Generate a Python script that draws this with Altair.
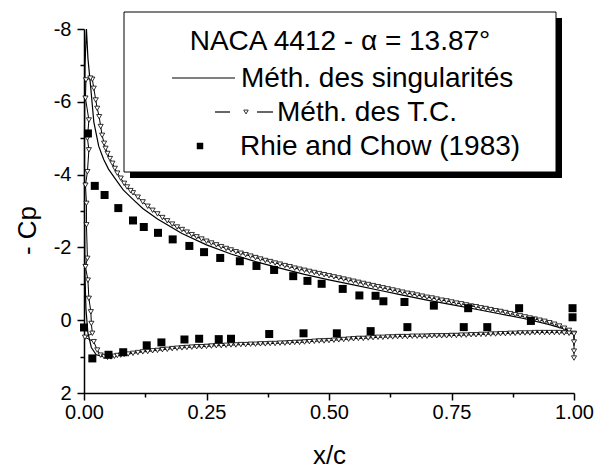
import altair as alt
import pandas as pd

# ---------------- data ----------------
# Méthode des singularités (solid line), ordered TE upper -> LE -> TE lower
sing_x = [1.0, 0.98, 0.95, 0.9, 0.85, 0.8, 0.75, 0.7, 0.65, 0.6, 0.55, 0.5, 0.45, 0.4, 0.35,
          0.3, 0.25, 0.2, 0.15, 0.12, 0.1, 0.08, 0.065, 0.05, 0.04, 0.03, 0.02, 0.014, 0.008, 0.005,
          0.002, 0.001, 0.001, 0.002, 0.004, 0.008, 0.015, 0.025, 0.04, 0.055, 0.08, 0.1, 0.15, 0.2,
          0.25, 0.3, 0.35, 0.4, 0.45, 0.5, 0.55, 0.6, 0.65, 0.7, 0.75, 0.8, 0.85, 0.9, 0.95, 0.98, 1.0, 1.0]
sing_y = [0.34, 0.24, 0.12, -0.04, -0.17, -0.3, -0.43, -0.55, -0.69, -0.83, -0.97, -1.11, -1.26, -1.43, -1.61,
          -1.82, -2.07, -2.38, -2.78, -3.07, -3.32, -3.58, -3.86, -4.15, -4.42, -4.78, -5.45, -6.35, -7.2, -8.0,
          -7.0, -5.0, -3.0, -1.2, -0.3, 0.35, 0.75, 0.95, 1.0, 0.97, 0.92, 0.88, 0.79, 0.71,
          0.67, 0.64, 0.62, 0.59, 0.55, 0.51, 0.47, 0.43, 0.41, 0.39, 0.38, 0.36, 0.34, 0.32, 0.3, 0.3, 0.33, 0.7]

# Méthode des T.C. (triangles), ordered TE upper -> LE -> TE lower
tc_x = [1.0, 0.99, 0.98, 0.97, 0.96, 0.95, 0.94, 0.93, 0.92, 0.91, 0.90, 0.89, 0.88, 0.87, 0.86,
        0.85, 0.84, 0.83, 0.82, 0.81, 0.80, 0.79, 0.78, 0.77, 0.76, 0.75, 0.74, 0.73, 0.72, 0.71,
        0.70, 0.69, 0.68, 0.67, 0.66, 0.65, 0.64, 0.63, 0.62, 0.61, 0.60, 0.59, 0.58, 0.57, 0.56,
        0.55, 0.54, 0.53, 0.52, 0.51, 0.50, 0.49, 0.48, 0.47, 0.46, 0.45, 0.44, 0.43, 0.42, 0.41,
        0.40, 0.39, 0.38, 0.37, 0.36, 0.35, 0.34, 0.33, 0.32, 0.31, 0.30, 0.29, 0.28, 0.27, 0.26,
        0.25, 0.24, 0.23, 0.22, 0.21, 0.20, 0.19, 0.18, 0.17, 0.16, 0.15, 0.14, 0.13, 0.12, 0.11,
        0.10, 0.095, 0.088, 0.082, 0.075, 0.068, 0.063, 0.058, 0.053, 0.048, 0.044, 0.041, 0.037, 0.034, 0.031,
        0.027, 0.024, 0.02, 0.017, 0.013,
        0.004, 0.003, 0.01, 0.007, 0.01, 0.007, 0.003, 0.005, 0.005, 0.007, 0.003, 0.008, 0.01, 0.014, 0.015,
        0.017, 0.002, 0.02, 0.027, 0.034, 0.041, 0.048, 0.055, 0.062, 0.068, 0.075, 0.082, 0.09,
        0.10, 0.11, 0.12, 0.13, 0.14, 0.15, 0.16, 0.17, 0.18, 0.19, 0.20, 0.21, 0.22, 0.23, 0.24,
        0.25, 0.26, 0.27, 0.28, 0.29, 0.30, 0.31, 0.32, 0.33, 0.34, 0.35, 0.36, 0.37, 0.38, 0.39,
        0.40, 0.41, 0.42, 0.43, 0.44, 0.45, 0.46, 0.47, 0.48, 0.49, 0.50, 0.51, 0.52, 0.53, 0.54,
        0.55, 0.56, 0.57, 0.58, 0.59, 0.60, 0.61, 0.62, 0.63, 0.64, 0.65, 0.66, 0.67, 0.68, 0.69,
        0.70, 0.71, 0.72, 0.73, 0.74, 0.75, 0.76, 0.77, 0.78, 0.79, 0.80, 0.81, 0.82, 0.83, 0.84,
        0.85, 0.86, 0.87, 0.88, 0.89, 0.90, 0.91, 0.92, 0.93, 0.94, 0.95, 0.96, 0.97, 0.98, 0.99,
        1.0, 1.0, 1.0, 1.0]
tc_y = [0.36, 0.28, 0.22, 0.16, 0.11, 0.07, 0.03, 0.0, -0.03, -0.06, -0.09, -0.12, -0.15, -0.18, -0.21,
        -0.24, -0.26, -0.29, -0.32, -0.34, -0.37, -0.39, -0.42, -0.45, -0.47, -0.50, -0.53, -0.55, -0.58, -0.61,
        -0.63, -0.66, -0.69, -0.72, -0.74, -0.77, -0.80, -0.83, -0.86, -0.89, -0.92, -0.95, -0.98, -1.01, -1.04,
        -1.07, -1.10, -1.13, -1.16, -1.19, -1.22, -1.25, -1.28, -1.31, -1.34, -1.37, -1.40, -1.43, -1.47, -1.50,
        -1.54, -1.57, -1.61, -1.64, -1.68, -1.72, -1.76, -1.80, -1.84, -1.88, -1.93, -1.97, -2.02, -2.07, -2.12,
        -2.17, -2.23, -2.29, -2.35, -2.42, -2.49, -2.56, -2.64, -2.73, -2.82, -2.92, -3.02, -3.13, -3.25, -3.38,
        -3.50, -3.56, -3.66, -3.76, -3.90, -4.04, -4.17, -4.31, -4.44, -4.58, -4.72, -4.86, -5.08, -5.32, -5.59,
        -5.82, -6.05, -6.37, -6.62, -6.65,
        -6.6, -6.1, -5.5, -5.0, -4.68, -4.08, -3.71, -3.21, -2.62, -1.70, -1.47, -1.10, -0.60, -0.23, 0.09,
        0.36, 0.47, 0.59, 0.82, 0.96, 1.0, 1.02, 1.01, 0.99, 0.97, 0.96, 0.94, 0.93,
        0.91, 0.89, 0.87, 0.86, 0.84, 0.83, 0.81, 0.80, 0.78, 0.77, 0.76, 0.75, 0.74, 0.73, 0.73,
        0.72, 0.71, 0.70, 0.70, 0.69, 0.68, 0.68, 0.67, 0.67, 0.66, 0.66, 0.65, 0.65, 0.64, 0.64,
        0.63, 0.63, 0.62, 0.61, 0.61, 0.60, 0.59, 0.58, 0.57, 0.57, 0.56, 0.55, 0.54, 0.53, 0.52,
        0.51, 0.50, 0.50, 0.49, 0.48, 0.47, 0.47, 0.46, 0.46, 0.45, 0.45, 0.45, 0.44, 0.44, 0.44,
        0.44, 0.43, 0.43, 0.43, 0.43, 0.42, 0.42, 0.41, 0.41, 0.40, 0.40, 0.39, 0.39, 0.38, 0.38,
        0.37, 0.37, 0.36, 0.36, 0.35, 0.35, 0.35, 0.34, 0.34, 0.34, 0.34, 0.34, 0.34, 0.35, 0.36,
        0.38, 0.6, 0.85, 1.04]

# Rhie and Chow (1983) (squares)
rc_x = [0.0, 0.008, 0.022, 0.042, 0.07, 0.10, 0.122, 0.151, 0.181, 0.215, 0.245, 0.278, 0.318, 0.352,
        0.388, 0.427, 0.456, 0.485, 0.528, 0.562, 0.595, 0.611, 0.654, 0.714, 0.784, 0.888, 0.912,
        0.997, 0.997,
        0.017, 0.05, 0.08, 0.128, 0.158, 0.205, 0.235, 0.275, 0.30, 0.378, 0.448, 0.516, 0.585,
        0.66, 0.775, 0.823]
rc_y = [0.2, -5.13, -3.69, -3.44, -3.08, -2.74, -2.56, -2.40, -2.22, -2.04, -1.87, -1.71, -1.62, -1.49,
        -1.38, -1.21, -1.08, -1.0, -0.86, -0.68, -0.67, -0.52, -0.50, -0.40, -0.33, -0.33, 0.02,
        -0.33, -0.08,
        1.05, 0.95, 0.88, 0.69, 0.61, 0.53, 0.51, 0.52, 0.51, 0.38, 0.36, 0.36, 0.30,
        0.19, 0.19, 0.19]

x_major = [0.0, 0.25, 0.5, 0.75, 1.0]
x_minor = [0.125, 0.375, 0.625, 0.875]
y_major = [-8, -6, -4, -2, 0, 2]
y_minor = [-7, -5, -3, -1, 1]

legend_title = "NACA 4412 - \u03b1 = 13.87\u00b0"
legend_labels = ["M\u00e9th. des singularit\u00e9s", "M\u00e9th. des T.C.", "Rhie and Chow (1983)"]

# ---------------- chart ----------------
FONT = "Liberation Sans"
df_sing = pd.DataFrame({"x": sing_x, "y": sing_y, "i": list(range(len(sing_x)))})
df_tc = pd.DataFrame({"x": tc_x, "y": tc_y, "i": list(range(len(tc_x)))})
df_rc = pd.DataFrame({"x": rc_x, "y": rc_y})
one = pd.DataFrame({"k": [0]})

xs = alt.Scale(domain=[0, 1], nice=False, zero=False)
ys = alt.Scale(domain=[-8, 2], nice=False, zero=False, reverse=True)

ylab = "datum.value < 0 ? '-' + format(-datum.value, 'd') : format(datum.value, 'd')"

x_axis_major = alt.Axis(values=x_major, format=".2f", title="x/c", orient="bottom", tickSize=7,
                        labelPadding=2, grid=False, labelFlush=False,
                        titleY=70, titleBaseline="alphabetic")
y_axis_major = alt.Axis(values=y_major, labelExpr=ylab, title="- Cp", orient="left", tickSize=7,
                        labelPadding=6, grid=False, labelFlush=False,
                        titleX=-49, titleY=201, titleBaseline="alphabetic")
x_axis_minor = alt.Axis(values=x_minor, labels=False, domain=False, title="", orient="bottom",
                        tickSize=4, grid=False)
y_axis_minor = alt.Axis(values=y_minor, labels=False, domain=False, title="", orient="left",
                        tickSize=4, grid=False)

minor = alt.Chart(df_rc).mark_point(opacity=0).encode(
    x=alt.X("x:Q", scale=xs, axis=x_axis_minor),
    y=alt.Y("y:Q", scale=ys, axis=y_axis_minor),
)

sing = alt.Chart(df_sing).mark_line(color="black", strokeWidth=1.2).encode(
    x=alt.X("x:Q", scale=xs, axis=None),
    y=alt.Y("y:Q", scale=ys, axis=None),
    order="i:Q",
)

tc_line = alt.Chart(df_tc).mark_line(color="black", strokeWidth=1).encode(
    x=alt.X("x:Q", scale=xs, axis=None),
    y=alt.Y("y:Q", scale=ys, axis=None),
    order="i:Q",
)
tc_pts = alt.Chart(df_tc).mark_point(shape="triangle-down", size=26, filled=True, fill="white",
                                     stroke="black", strokeWidth=0.8, opacity=1).encode(
    x=alt.X("x:Q", scale=xs, axis=None),
    y=alt.Y("y:Q", scale=ys, axis=None),
)

rc = alt.Chart(df_rc).mark_square(size=64, color="black", opacity=1).encode(
    x=alt.X("x:Q", scale=xs, axis=x_axis_major),
    y=alt.Y("y:Q", scale=ys, axis=y_axis_major),
)

# legend box (pixel positions relative to plot area)
LFS = 28
shadow = alt.Chart(one).mark_rect(color="black").encode(
    x=alt.value(46), x2=alt.value(478), y=alt.value(-11), y2=alt.value(149))
box = alt.Chart(one).mark_rect(fill="white", stroke="black", strokeWidth=1).encode(
    x=alt.value(40), x2=alt.value(472), y=alt.value(-17), y2=alt.value(143))
t_title = alt.Chart(one).mark_text(font=FONT, fontSize=LFS, align="center", baseline="middle",
                                   color="black", text=legend_title).encode(
    x=alt.value(256), y=alt.value(13))
r1_line = alt.Chart(one).mark_rule(color="black", strokeWidth=1.2).encode(
    x=alt.value(88), x2=alt.value(151), y=alt.value(49))
r1_text = alt.Chart(one).mark_text(font=FONT, fontSize=LFS, align="left", baseline="middle",
                                   color="black", text=legend_labels[0]).encode(
    x=alt.value(157), y=alt.value(50))
r2_l1 = alt.Chart(one).mark_rule(color="black", strokeWidth=1.2).encode(
    x=alt.value(131), x2=alt.value(146), y=alt.value(83))
r2_l2 = alt.Chart(one).mark_rule(color="black", strokeWidth=1.2).encode(
    x=alt.value(173), x2=alt.value(189), y=alt.value(83))
r2_sym = alt.Chart(one).mark_point(shape="triangle-down", size=20, filled=True, fill="white",
                                   stroke="black", strokeWidth=0.8, opacity=1).encode(
    x=alt.value(162), y=alt.value(83))
r2_text = alt.Chart(one).mark_text(font=FONT, fontSize=LFS, align="left", baseline="middle",
                                   color="black", text=legend_labels[1]).encode(
    x=alt.value(193), y=alt.value(84))
r3_sym = alt.Chart(one).mark_square(size=42, color="black", opacity=1).encode(
    x=alt.value(116), y=alt.value(117))
r3_text = alt.Chart(one).mark_text(font=FONT, fontSize=LFS, align="left", baseline="middle",
                                   color="black", text=legend_labels[2]).encode(
    x=alt.value(156), y=alt.value(118))

chart = alt.layer(
    minor, sing, tc_line, tc_pts, rc,
    shadow, box, t_title, r1_line, r1_text, r2_l1, r2_l2, r2_sym, r2_text, r3_sym, r3_text,
).resolve_axis(
    x="independent", y="independent"
).properties(
    width=490, height=364,
    autosize=alt.AutoSizeParams(type="none"),
    padding={"left": 84, "top": 29, "right": 23, "bottom": 75},
    background="white",
).configure_view(
    stroke=None
).configure_axis(
    labelFont=FONT, titleFont=FONT, labelFontSize=20, titleFontSize=26,
    titleFontWeight="normal", labelColor="black", titleColor="black",
    domainColor="black", tickColor="black", domainWidth=1.5, tickWidth=1.5,
)

chart.save("out.html", embed_options={"renderer": "svg", "actions": False})
